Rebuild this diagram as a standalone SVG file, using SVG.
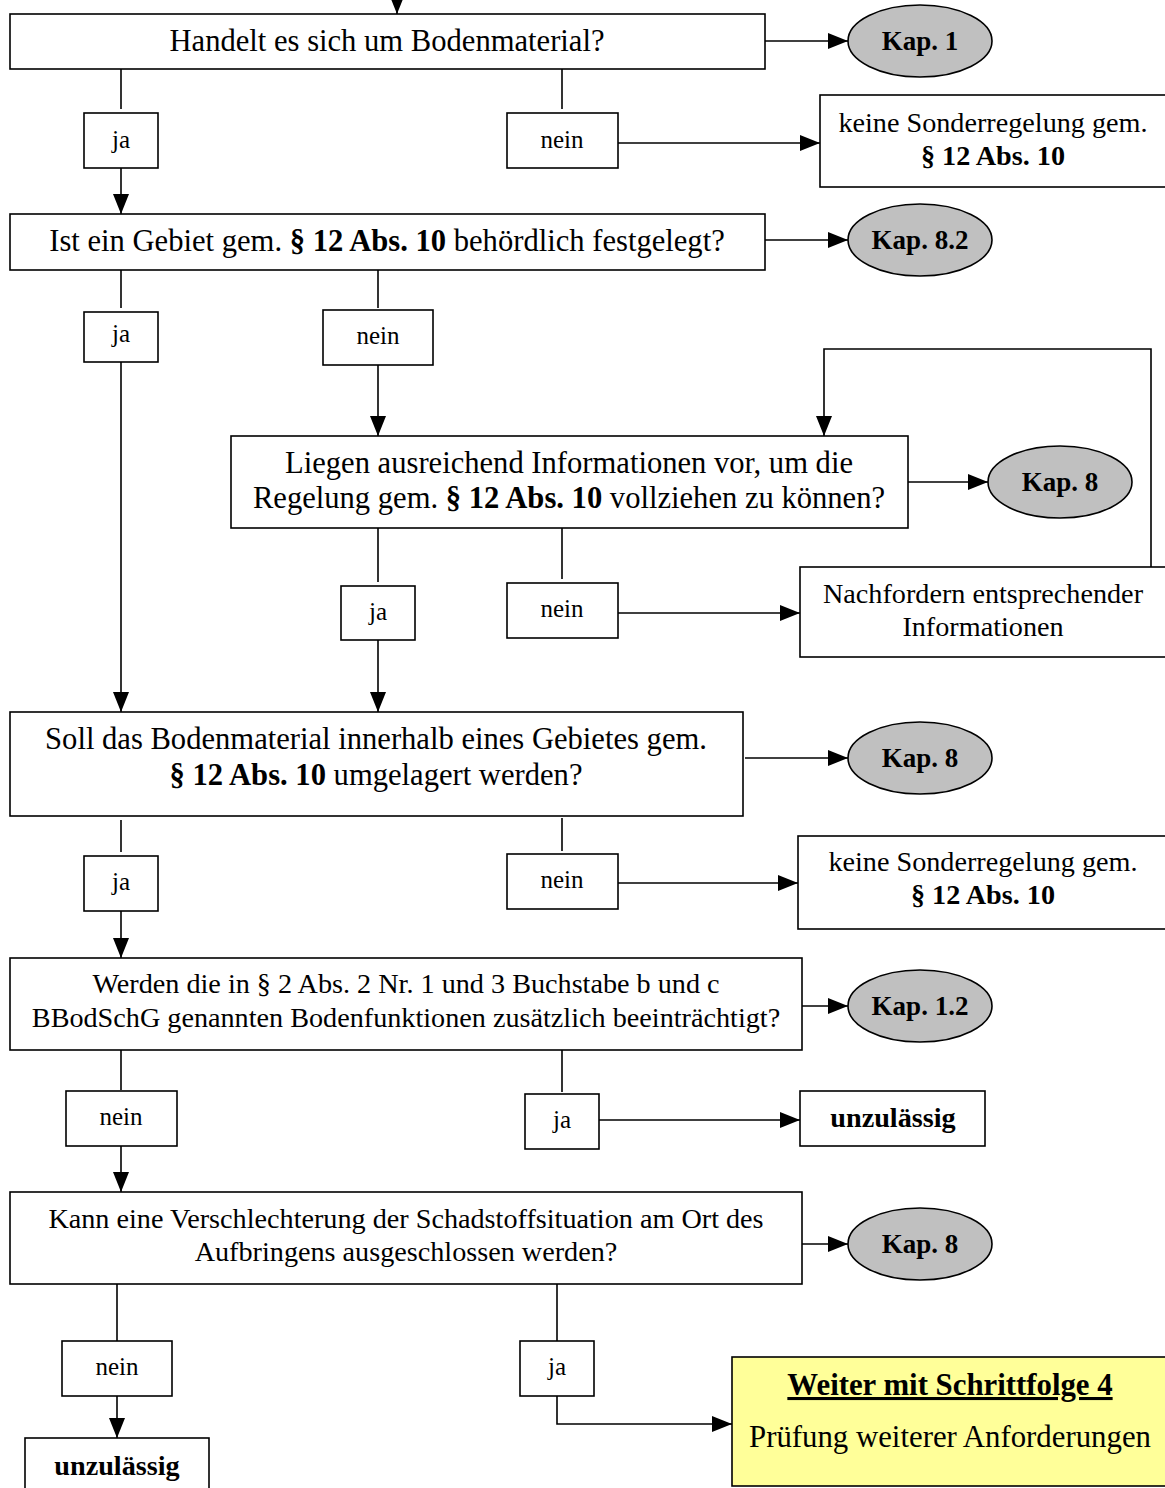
<svg xmlns="http://www.w3.org/2000/svg" width="1165" height="1488" viewBox="0 0 1165 1488">
<style>
  .box{fill:#fff;stroke:#000;stroke-width:1.6}
  .lbl{fill:#fff;stroke:#000;stroke-width:1.6}
  .ell{fill:#c0c0c0;stroke:#000;stroke-width:1.6}
  .yel{fill:#ffff99;stroke:#000;stroke-width:1.6}
  .ln{fill:none;stroke:#000;stroke-width:1.6}
  .ar{fill:none;stroke:#000;stroke-width:1.6;marker-end:url(#ah)}
  text{font-family:"Liberation Serif","Times New Roman",serif;fill:#000;text-anchor:middle}
  .q{font-size:28.2px}
  .big{font-size:30.6px}
  .s{font-size:25px}
  .k{font-size:27px;font-weight:bold}
  .b{font-weight:bold}
</style>
<defs>
  <marker id="ah" markerUnits="userSpaceOnUse" markerWidth="22" markerHeight="18" refX="20" refY="8" orient="auto">
    <path d="M0,0 L20,8 L0,16 z" fill="#000"/>
  </marker>
</defs>
<rect width="1165" height="1488" fill="#fff"/>

<g id="connectors">
  <path class="ar" d="M397,0 V14"/>
  <path class="ar" d="M765,41 H848"/>
  <path class="ln" d="M121,69 V109"/>
  <path class="ar" d="M121,168 V214"/>
  <path class="ln" d="M562,69 V109"/>
  <path class="ar" d="M618,143 H820"/>
  <path class="ar" d="M765,240 H848"/>
  <path class="ln" d="M121,270 V308"/>
  <path class="ar" d="M121,362 V712"/>
  <path class="ln" d="M378,270 V308"/>
  <path class="ar" d="M378,365 V436"/>
  <path class="ar" d="M908,482 H988"/>
  <path class="ar" d="M1151,567 V349 H824 V436"/>
  <path class="ln" d="M378,528 V582"/>
  <path class="ar" d="M378,640 V712"/>
  <path class="ln" d="M562,528 V579"/>
  <path class="ar" d="M618,613 H800"/>
  <path class="ar" d="M745,758 H848"/>
  <path class="ln" d="M121,820 V852"/>
  <path class="ar" d="M121,911 V958"/>
  <path class="ln" d="M562,818 V851"/>
  <path class="ar" d="M618,883 H798"/>
  <path class="ar" d="M802,1006 H848"/>
  <path class="ln" d="M121,1050 V1090"/>
  <path class="ar" d="M121,1146 V1192"/>
  <path class="ln" d="M562,1050 V1092"/>
  <path class="ar" d="M599,1120 H800"/>
  <path class="ar" d="M802,1244 H848"/>
  <path class="ln" d="M117,1284 V1341"/>
  <path class="ar" d="M117,1396 V1438"/>
  <path class="ln" d="M557,1284 V1341"/>
  <path class="ar" d="M557,1396 V1424 H732"/>
</g>

<g id="q1">
  <rect class="box" x="10" y="14" width="755" height="55"/>
  <text class="big" x="387" y="51">Handelt es sich um Bodenmaterial?</text>
</g>
<g id="kap1">
  <ellipse class="ell" cx="920" cy="41" rx="72" ry="36"/>
  <text class="k" x="920" y="50">Kap. 1</text>
</g>
<g id="q1-ja">
  <rect class="lbl" x="84" y="113" width="74" height="55"/>
  <text class="s" x="121" y="148">ja</text>
</g>
<g id="q1-nein">
  <rect class="lbl" x="507" y="113" width="111" height="55"/>
  <text class="s" x="562" y="148">nein</text>
</g>
<g id="keine1">
  <rect class="box" x="820" y="95" width="350" height="92"/>
  <text class="q" x="993" y="132">keine Sonderregelung gem.</text>
  <text class="q b" x="993" y="165">§ 12 Abs. 10</text>
</g>

<g id="q2">
  <rect class="box" x="10" y="214" width="755" height="56"/>
  <text class="big" x="387" y="251">Ist ein Gebiet gem. <tspan class="b">§ 12 Abs. 10</tspan> behördlich festgelegt?</text>
</g>
<g id="kap82">
  <ellipse class="ell" cx="920" cy="240" rx="72" ry="36"/>
  <text class="k" x="920" y="249">Kap. 8.2</text>
</g>
<g id="q2-ja">
  <rect class="lbl" x="84" y="312" width="74" height="50"/>
  <text class="s" x="121" y="342">ja</text>
</g>
<g id="q2-nein">
  <rect class="lbl" x="323" y="310" width="110" height="55"/>
  <text class="s" x="378" y="344">nein</text>
</g>

<g id="q3">
  <rect class="box" x="231" y="436" width="677" height="92"/>
  <text class="big" x="569" y="473">Liegen ausreichend Informationen vor, um die</text>
  <text class="big" x="569" y="508">Regelung gem. <tspan class="b">§ 12 Abs. 10</tspan> vollziehen zu können?</text>
</g>
<g id="kap8a">
  <ellipse class="ell" cx="1060" cy="482" rx="72" ry="36"/>
  <text class="k" x="1060" y="491">Kap. 8</text>
</g>
<g id="q3-ja">
  <rect class="lbl" x="341" y="586" width="74" height="54"/>
  <text class="s" x="378" y="620">ja</text>
</g>
<g id="q3-nein">
  <rect class="lbl" x="507" y="583" width="111" height="55"/>
  <text class="s" x="562" y="617">nein</text>
</g>
<g id="nachfordern">
  <rect class="box" x="800" y="567" width="370" height="90"/>
  <text class="q" x="983" y="603">Nachfordern entsprechender</text>
  <text class="q" x="983" y="636">Informationen</text>
</g>

<g id="q4">
  <rect class="box" x="10" y="712" width="733" height="104"/>
  <text class="big" x="376" y="749">Soll das Bodenmaterial innerhalb eines Gebietes gem.</text>
  <text class="big" x="376" y="785"><tspan class="b">§ 12 Abs. 10</tspan> umgelagert werden?</text>
</g>
<g id="kap8b">
  <ellipse class="ell" cx="920" cy="758" rx="72" ry="36"/>
  <text class="k" x="920" y="767">Kap. 8</text>
</g>
<g id="q4-ja">
  <rect class="lbl" x="84" y="856" width="74" height="55"/>
  <text class="s" x="121" y="890">ja</text>
</g>
<g id="q4-nein">
  <rect class="lbl" x="507" y="854" width="111" height="55"/>
  <text class="s" x="562" y="888">nein</text>
</g>
<g id="keine2">
  <rect class="box" x="798" y="836" width="372" height="93"/>
  <text class="q" x="983" y="871">keine Sonderregelung gem.</text>
  <text class="q b" x="983" y="904">§ 12 Abs. 10</text>
</g>

<g id="q5">
  <rect class="box" x="10" y="958" width="792" height="92"/>
  <text class="q" x="406" y="993">Werden die in § 2 Abs. 2 Nr. 1 und 3 Buchstabe b und c</text>
  <text class="q" x="406" y="1027">BBodSchG genannten Bodenfunktionen zusätzlich beeinträchtigt?</text>
</g>
<g id="kap12">
  <ellipse class="ell" cx="920" cy="1006" rx="72" ry="36"/>
  <text class="k" x="920" y="1015">Kap. 1.2</text>
</g>
<g id="q5-nein">
  <rect class="lbl" x="66" y="1091" width="111" height="55"/>
  <text class="s" x="121" y="1125">nein</text>
</g>
<g id="q5-ja">
  <rect class="lbl" x="525" y="1094" width="74" height="55"/>
  <text class="s" x="562" y="1128">ja</text>
</g>
<g id="unzul1">
  <rect class="box" x="800" y="1091" width="185" height="55"/>
  <text class="q b" x="893" y="1127">unzulässig</text>
</g>

<g id="q6">
  <rect class="box" x="10" y="1192" width="792" height="92"/>
  <text class="q" x="406" y="1228">Kann eine Verschlechterung der Schadstoffsituation am Ort des</text>
  <text class="q" x="406" y="1261">Aufbringens ausgeschlossen werden?</text>
</g>
<g id="kap8c">
  <ellipse class="ell" cx="920" cy="1244" rx="72" ry="36"/>
  <text class="k" x="920" y="1253">Kap. 8</text>
</g>
<g id="q6-nein">
  <rect class="lbl" x="62" y="1341" width="110" height="55"/>
  <text class="s" x="117" y="1375">nein</text>
</g>
<g id="q6-ja">
  <rect class="lbl" x="520" y="1341" width="74" height="55"/>
  <text class="s" x="557" y="1375">ja</text>
</g>
<g id="unzul2">
  <rect class="box" x="25" y="1438" width="184" height="60"/>
  <text class="q b" x="117" y="1475">unzulässig</text>
</g>
<g id="weiter">
  <rect class="yel" x="732" y="1357" width="440" height="129"/>
  <text class="b" x="950" y="1395" style="font-size:30.8px" text-decoration="underline">Weiter mit Schrittfolge 4</text>
  <text x="950" y="1447" style="font-size:30.8px">Prüfung weiterer Anforderungen</text>
</g>
</svg>
